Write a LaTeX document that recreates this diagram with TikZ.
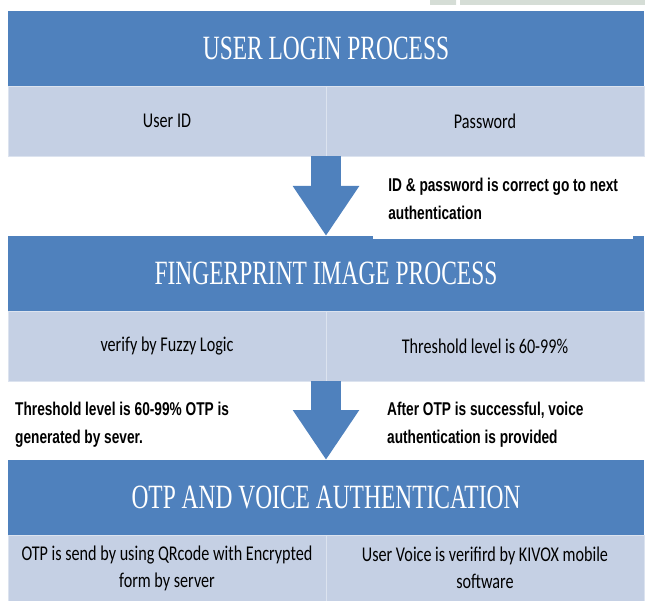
\documentclass[tikz,border=0pt]{standalone}
\usepackage{fontspec}
\usepackage{tikz}
\usetikzlibrary{positioning, arrows.meta}
\setmainfont{Carlito}[FakeStretch=0.77]
\newfontfamily\headfont{Liberation Serif}[FakeStretch=0.69]
\newfontfamily\notefont{Liberation Sans}[FakeStretch=0.74]
\definecolor{headblue}{HTML}{4F81BD}
\definecolor{cellblue}{HTML}{C5D0E4}
\definecolor{stripgrey}{HTML}{D5DDD6}

\begin{document}
\begin{tikzpicture}[x=1pt, y=-1pt,
    head/.style={fill=headblue, text=white, inner sep=0pt, outer sep=0pt, minimum width=636pt, minimum height=75pt, font=\headfont\fontsize{34}{38}\selectfont},
    cell/.style={fill=cellblue, draw=cellblue!60!white, line width=0.8pt, inner sep=0pt, outer sep=0pt, minimum width=318pt, minimum height=70pt, align=center, font=\fontsize{21}{27}\selectfont},
    note/.style={anchor=north west, inner sep=0pt, align=left, font=\notefont\bfseries\fontsize{18.5}{28}\selectfont},
    flow/.style={headblue, line width=30pt, -{Triangle[width=63pt, length=50pt]}}]
  \useasboundingbox (0,0) rectangle (645,601);
  % strip at the top edge
  \fill[stripgrey] (430,0) rectangle (456,5) (460,0) rectangle (645,5);
  \foreach \y/\name/\title in {48.5/login/USER LOGIN PROCESS, 273.5/finger/FINGERPRINT IMAGE PROCESS, 497.5/otp/OTP AND VOICE AUTHENTICATION} {
    \node[head] (\name) at (326,\y) {\title};
  }
  \node[cell, anchor=north west] (uid) at (login.south west) {User ID};
  \node[cell, right=0pt of uid] (pwd) {Password};
  \node[cell, anchor=north west] (fuzzy) at (finger.south west) {verify by Fuzzy Logic};
  \node[cell, right=0pt of fuzzy] (thresh) {Threshold level is 60-99\%};
  \node[cell, anchor=north west, minimum height=66pt] (qr) at (otp.south west) {OTP is send by using QRcode with Encrypted\\form by server};
  \node[cell, right=0pt of qr, minimum height=66pt] (voice) {User Voice is verifird by KIVOX mobile\\software};
  % block arrows
  \draw[flow] (uid.south east) -- (uid.south east |- finger.north);
  \draw[flow] (fuzzy.south east) -- (fuzzy.south east |- otp.north);
  % notes
  \node[note, anchor=south west, fill=white, inner xsep=12pt, inner ysep=19pt, minimum width=260pt] (idok) at (373,239) {ID \& password is correct go to next\\authentication};
  \node[note] (otpgen) at (15,402) {Threshold level is 60-99\% OTP is\\generated by sever.};
  \node[note] (voiceok) at (387,402) {After OTP is successful, voice\\authentication is provided};
\end{tikzpicture}
\end{document}
